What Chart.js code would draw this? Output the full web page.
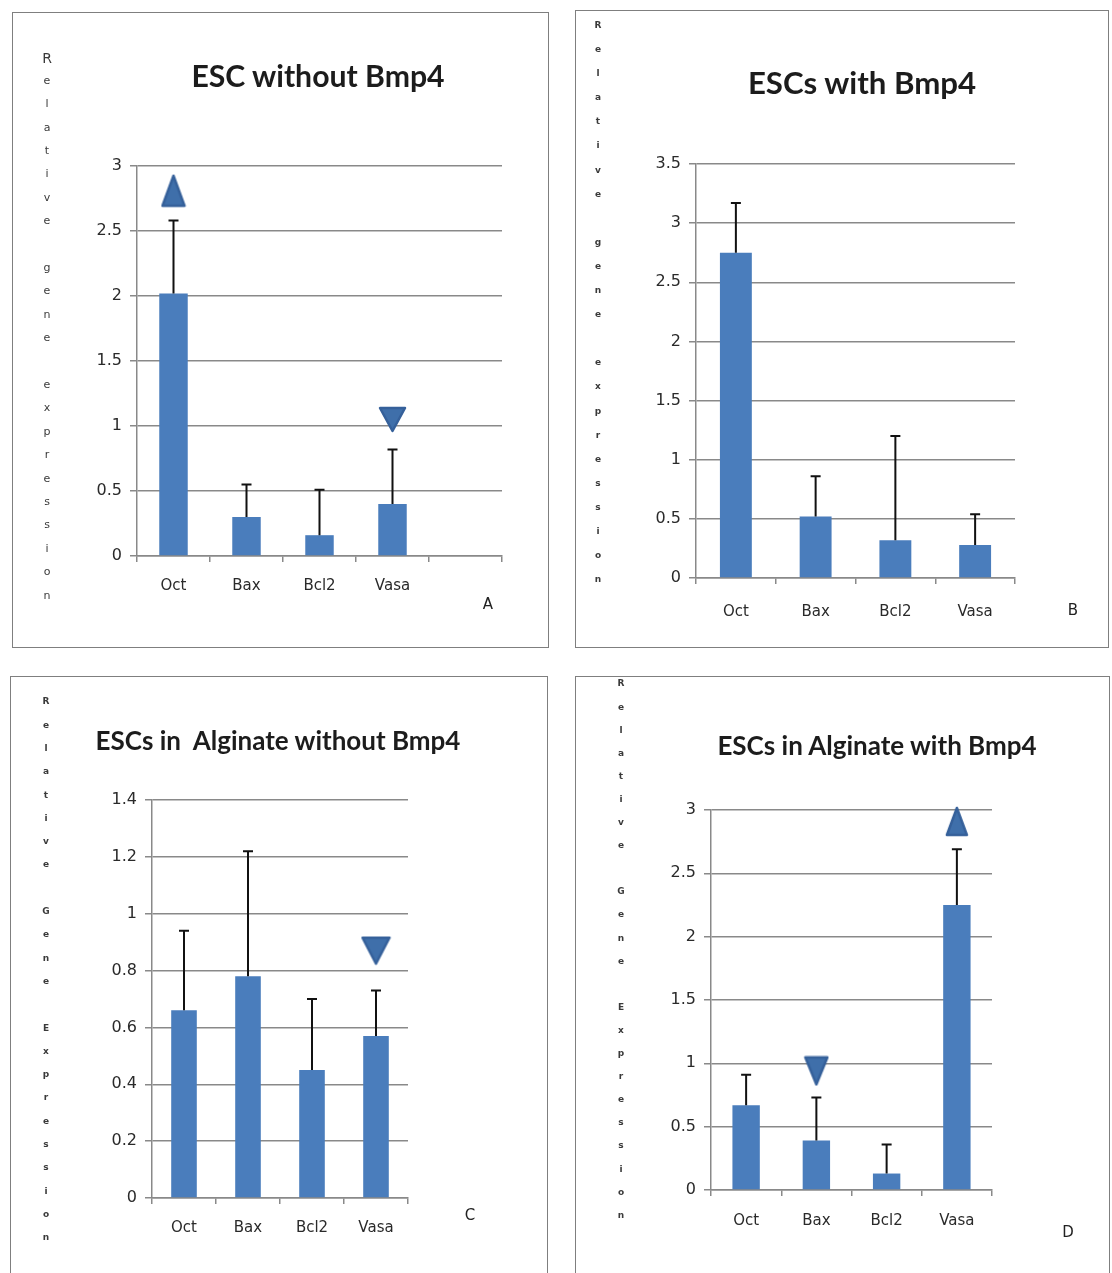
<!DOCTYPE html>
<html>
<head>
<meta charset="utf-8">
<script src="https://cdn.jsdelivr.net/npm/chart.js@4.4.1/dist/chart.umd.min.js"></script>
<style>
  body { margin: 0; width: 1112px; height: 1273px; overflow: hidden; background: #fff; position: relative; font-family: Lato, sans-serif; }
  .box { position: absolute; border: 1px solid #7f7f7f; box-sizing: border-box; }
  .wrap { position: absolute; }
  .title { position: absolute; font-weight: bold; color: #1c1c1c; white-space: pre; transform: translate(-50%, -50%); }
  .tag { position: absolute; font-size: 15px; font-family: "DejaVu Sans"; color: #222; transform: translate(-50%, -50%); }
  .ch { position: absolute; width: 20px; text-align: center; color: #3a3a3a; }
</style>
</head>
<body>
<div class="box" style="left:12px;top:12px;width:537px;height:636px"></div>
<div class="box" style="left:575px;top:10px;width:534px;height:638px"></div>
<div class="box" style="left:10px;top:676px;width:538px;height:640px"></div>
<div class="box" style="left:575px;top:676px;width:535px;height:640px"></div>

<div class="wrap" style="left:12px;top:12px;width:537px;height:636px"><canvas id="chartA"></canvas></div>
<div class="wrap" style="left:575px;top:10px;width:534px;height:638px"><canvas id="chartB"></canvas></div>
<div class="wrap" style="left:10px;top:676px;width:538px;height:620px"><canvas id="chartC"></canvas></div>
<div class="wrap" style="left:575px;top:676px;width:535px;height:620px"><canvas id="chartD"></canvas></div>

<script>
// categories
var genes = ['Oct', 'Bax', 'Bcl2', 'Vasa']
var genesA = ['Oct', 'Bax', 'Bcl2', 'Vasa', '']

// A - ESC without Bmp4
var meanA = [2.02, 0.30, 0.16, 0.40]
var sdA = [0.56, 0.25, 0.35, 0.42]
var upA = [2.81, null, null, null]
var downA = [null, null, null, 1.05]
var ticksA = [0, 0.5, 1, 1.5, 2, 2.5, 3]

// B - ESCs with Bmp4
var meanB = [2.75, 0.52, 0.32, 0.28]
var sdB = [0.42, 0.34, 0.88, 0.26]
var upB = [null, null, null, null]
var downB = [null, null, null, null]
var ticksB = [0, 0.5, 1, 1.5, 2, 2.5, 3, 3.5]

// C - ESCs in Alginate without Bmp4
var meanC = [0.66, 0.78, 0.45, 0.57]
var sdC = [0.28, 0.44, 0.25, 0.16]
var upC = [null, null, null, null]
var downC = [null, null, null, 0.87]
var ticksC = [0, 0.2, 0.4, 0.6, 0.8, 1, 1.2, 1.4]

// D - ESCs in Alginate with Bmp4
var meanD = [0.67, 0.39, 0.13, 2.25]
var sdD = [0.24, 0.34, 0.23, 0.44]
var upD = [null, null, null, 2.91]
var downD = [null, 0.94, null, null]
var ticksD = [0, 0.5, 1, 1.5, 2, 2.5, 3]

var barBlue = '#4a7dbc'
var gridGray = '#898989'
var tickFont = { family: 'DejaVu Sans', size: 15 }

// little blue arrow heads used as point styles
function makeTri(w, h, down) {
  var c = document.createElement('canvas')
  c.width = w + 4
  c.height = h + 4
  var g = c.getContext('2d')
  g.translate(2, 2)
  g.beginPath()
  if (down) {
    g.moveTo(0, 0); g.lineTo(w, 0); g.lineTo(w / 2, h)
  } else {
    g.moveTo(w / 2, 0); g.lineTo(w, h); g.lineTo(0, h)
  }
  g.closePath()
  g.lineJoin = 'round'
  g.fillStyle = '#3f6faa'
  g.fill()
  g.lineWidth = 2.5
  g.strokeStyle = '#35609a'
  g.stroke()
  return c
}

function errPlugin(sd) {
  return {
    id: 'errbars',
    afterDatasetsDraw: function (chart) {
      var meta = chart.getDatasetMeta(0)
      var y = chart.scales.y
      var ctx = chart.ctx
      ctx.save()
      ctx.strokeStyle = '#111'
      ctx.lineWidth = 2
      meta.data.forEach(function (bar, i) {
        var v = chart.data.datasets[0].data[i]
        if (v == null || sd[i] == null) return
        var y1 = y.getPixelForValue(v)
        var y2 = y.getPixelForValue(v + sd[i])
        ctx.beginPath()
        ctx.moveTo(bar.x, y1)
        ctx.lineTo(bar.x, y2)
        ctx.moveTo(bar.x - 5, y2)
        ctx.lineTo(bar.x + 5, y2)
        ctx.stroke()
      })
      ctx.restore()
    }
  }
}

function makeChart(id, p) {
  var ctx = document.getElementById(id).getContext('2d')
  return new Chart(ctx, {
    type: 'bar',
    data: {
      labels: p.labels,
      datasets: [
        { data: p.mean, backgroundColor: barBlue, barPercentage: p.bp, categoryPercentage: 1 },
        { type: 'line', data: p.up, showLine: false, pointStyle: p.triUp, pointRadius: 12, clip: false },
        { type: 'line', data: p.down, showLine: false, pointStyle: p.triDown, pointRadius: 12, clip: false }
      ]
    },
    options: {
      responsive: true,
      maintainAspectRatio: false,
      animation: false,
      layout: { padding: p.pad },
      plugins: { legend: { display: false }, tooltip: { enabled: false } },
      scales: {
        x: {
          offset: true,
          grid: { offset: true, drawOnChartArea: false, tickLength: 6, color: gridGray, lineWidth: 1.5 },
          border: { color: gridGray, width: 1.5 },
          ticks: { color: '#2a2a2a', font: tickFont, padding: p.xPad, maxRotation: 0, autoSkip: false },
          afterFit: function (s) { s.height = 45 }
        },
        y: {
          min: p.ticks[0],
          max: p.ticks[p.ticks.length - 1],
          afterBuildTicks: function (s) { s.ticks = p.ticks.map(function (v) { return { value: v } }) },
          grid: { color: gridGray, lineWidth: 1.5, tickLength: 7 },
          border: { color: gridGray, width: 1.5 },
          ticks: { color: '#2a2a2a', font: { family: 'DejaVu Sans', size: 16 }, padding: 8, callback: function (v) { return String(v) } },
          afterFit: function (s) { s.width = 50 }
        }
      }
    },
    plugins: [errPlugin(p.sd)]
  })
}

makeChart('chartA', {
  labels: genesA, mean: meanA, sd: sdA, up: upA, down: downA, ticks: ticksA, bp: 0.39, xPad: 15,
  triUp: makeTri(22, 30, false), triDown: makeTri(25, 23, true),
  pad: { left: 75, right: 47, top: 154, bottom: 47 }
})
makeChart('chartB', {
  labels: genes, mean: meanB, sd: sdB, up: upB, down: downB, ticks: ticksB, bp: 0.4, xPad: 19,
  triUp: makeTri(22, 28, false), triDown: makeTri(25, 23, true),
  pad: { left: 71, right: 94, top: 154, bottom: 25 }
})
makeChart('chartC', {
  labels: genes, mean: meanC, sd: sdC, up: upC, down: downC, ticks: ticksC, bp: 0.4, xPad: 15,
  triUp: makeTri(24, 26, false), triDown: makeTri(27, 26, true),
  pad: { left: 92, right: 140, top: 124, bottom: 53 }
})
makeChart('chartD', {
  labels: genes, mean: meanD, sd: sdD, up: upD, down: downD, ticks: ticksD, bp: 0.39, xPad: 16,
  triUp: makeTri(20, 27, false), triDown: makeTri(22, 27, true),
  pad: { left: 86, right: 118, top: 134, bottom: 61 }
})

// titles, fitted to the width they take in the original
function addTitle(text, cx, cy, w) {
  var d = document.createElement('div')
  d.className = 'title'
  d.textContent = text
  d.style.left = cx + 'px'
  d.style.top = cy + 'px'
  d.style.fontSize = '24px'
  document.body.appendChild(d)
  d.style.fontSize = (24 * w / d.offsetWidth).toFixed(1) + 'px'
}
addTitle('ESC without Bmp4', 318, 75, 253)
addTitle('ESCs with Bmp4', 862, 82, 229)
addTitle('ESCs in  Alginate without Bmp4', 278, 740, 365)
addTitle('ESCs in Alginate with Bmp4', 877, 745, 319)

// axis titles written one letter per line
function stackLabel(text, x, y0, pitch, font, firstFont) {
  text.split('').forEach(function (c, i) {
    var s = document.createElement('div')
    s.className = 'ch'
    s.textContent = c === ' ' ? '\u00a0' : c
    s.style.left = (x - 10) + 'px'
    s.style.top = (y0 + i * pitch - pitch / 2) + 'px'
    s.style.height = pitch + 'px'
    s.style.lineHeight = pitch + 'px'
    s.style.font = (i === 0 && firstFont) ? firstFont : font
    document.body.appendChild(s)
  })
}
stackLabel('Relative gene expression', 47, 62, 23.4, '11px "DejaVu Sans"', '14px "DejaVu Sans"')
stackLabel('Relative gene expression', 598, 32, 24.1, 'bold 9px "DejaVu Sans"')
stackLabel('Relative Gene Expression', 46, 708, 23.3, 'bold 9px "DejaVu Sans"')
stackLabel('Relative Gene Expression', 621, 690, 23.1, 'bold 9px "DejaVu Sans"')

function addTag(t, x, y) {
  var d = document.createElement('div')
  d.className = 'tag'
  d.textContent = t
  d.style.left = x + 'px'
  d.style.top = y + 'px'
  document.body.appendChild(d)
}
addTag('A', 488, 604)
addTag('B', 1073, 610)
addTag('C', 470, 1215)
addTag('D', 1068, 1232)
</script>
</body>
</html>
